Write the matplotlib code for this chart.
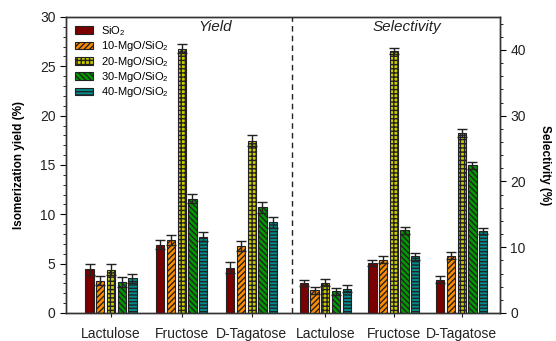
import matplotlib
matplotlib.use("Agg")
import matplotlib.pyplot as plt
import numpy as np

plt.rcParams['font.family'] = ['Liberation Sans', 'DejaVu Sans']
plt.rcParams['mathtext.default'] = 'regular'
plt.rcParams['hatch.linewidth'] = 1.0

sugars = ["Lactulose", "Fructose", "D-Tagatose"]
catalysts = ["SiO$_2$", "10-MgO/SiO$_2$", "20-MgO/SiO$_2$", "30-MgO/SiO$_2$", "40-MgO/SiO$_2$"]

yield_vals = {
    "SiO2":  [4.41, 6.91, 4.58],
    "10":    [3.29, 7.41, 6.81],
    "20":    [4.40, 26.77, 17.48],
    "30":    [3.12, 11.57, 10.72],
    "40":    [3.50, 7.72, 9.20],
}
yield_err = {
    "SiO2":  [0.54, 0.47, 0.54],
    "10":    [0.50, 0.54, 0.50],
    "20":    [0.55, 0.46, 0.57],
    "30":    [0.48, 0.47, 0.54],
    "40":    [0.50, 0.47, 0.54],
}
sel_vals = {
    "SiO2":  [4.54, 7.59, 5.05],
    "10":    [3.43, 8.10, 8.70],
    "20":    [4.60, 39.80, 27.30],
    "30":    [3.27, 12.56, 22.46],
    "40":    [3.68, 8.60, 12.46],
}
sel_err = {
    "SiO2":  [0.51, 0.41, 0.51],
    "10":    [0.50, 0.50, 0.50],
    "20":    [0.50, 0.50, 0.60],
    "30":    [0.51, 0.51, 0.51],
    "40":    [0.51, 0.50, 0.41],
}

keys = ["SiO2", "10", "20", "30", "40"]
colors = ["#7a0000", "#ff8c00", "#cccc00", "#009a00", "#008b8b"]
hatches = [None, "//////", "++++", "\\\\\\\\\\\\", "-----"]

fig = plt.figure(figsize=(5.56, 3.41), dpi=100)
ax = fig.add_axes([66/556, 1-313/341, (500-66)/556, (313-17)/341])
ax2 = ax.twinx()

left_pos = np.array([0.0, 1.01, 2.01])
right_pos = np.array([3.06, 4.04, 5.01])
pitch = 0.153
width = 0.118

handles = []
for i, k in enumerate(keys):
    off = (i - 2) * pitch
    b = ax.bar(left_pos + off, yield_vals[k], width, color=colors[i], hatch=hatches[i],
               edgecolor="#222222", linewidth=0.8, zorder=2, label=catalysts[i])
    ax.errorbar(left_pos + off, yield_vals[k], yerr=yield_err[k], fmt="none",
                ecolor="#222222", elinewidth=1.0, capsize=3.5, capthick=1.0, zorder=3)
    ax2.bar(right_pos + off, sel_vals[k], width, color=colors[i], hatch=hatches[i],
            edgecolor="#222222", linewidth=0.8, zorder=2)
    ax2.errorbar(right_pos + off, sel_vals[k], yerr=sel_err[k], fmt="none",
                 ecolor="#222222", elinewidth=1.0, capsize=3.5, capthick=1.0, zorder=3)
    handles.append(b)

ax.set_xlim(-0.643, 5.557)
ax.set_ylim(0, 30)
ax2.set_ylim(0, 45)

ax.axvline(2.586, color="#222222", linestyle=(0, (4, 3)), linewidth=1.0, zorder=1)

ax.set_xticks(np.concatenate([left_pos, right_pos]))
ax.set_xticklabels(sugars + sugars, fontsize=10)
ax.tick_params(axis="x", direction="out", length=3, pad=7, colors="#222222", labelcolor="#222222")

ax.set_yticks(np.arange(0, 31, 5))
ax.set_yticks(np.arange(0, 31, 1), minor=True)
ax.tick_params(axis="y", which="major", direction="out", length=4, labelsize=10, labelcolor="#222222")
ax.tick_params(axis="y", which="minor", direction="out", length=2)

ax2.set_yticks(np.arange(0, 41, 10))
ax2.set_yticks(np.arange(0, 46, 2), minor=True)
ax2.tick_params(axis="y", which="major", direction="out", length=4, labelsize=10, labelcolor="#222222")
ax2.tick_params(axis="y", which="minor", direction="out", length=2)

for a in (ax, ax2):
    for s in a.spines.values():
        s.set_color("#333333")
        s.set_linewidth(1.0)

ax.set_ylabel("Isomerization yield (%)", fontsize=8.5, fontweight="bold", labelpad=11)
ax2.set_ylabel("Selectivity (%)", fontsize=8.5, fontweight="bold", rotation=270, labelpad=18)

ax.text(1.49, 29.0, "Yield", fontsize=11, style="italic", ha="center", va="center", color="#222222")
ax.text(4.23, 29.0, "Selectivity", fontsize=11, style="italic", ha="center", va="center", color="#222222")

leg = ax.legend(handles=handles, labels=catalysts, loc="upper left", frameon=False,
                fontsize=8, handlelength=1.6, handleheight=0.7, labelspacing=0.12,
                borderaxespad=0.35, handletextpad=0.7, borderpad=0.3,
                bbox_to_anchor=(0.005, 1.0))
leg.set_zorder(5)

fig.savefig("out.png", dpi=100)
